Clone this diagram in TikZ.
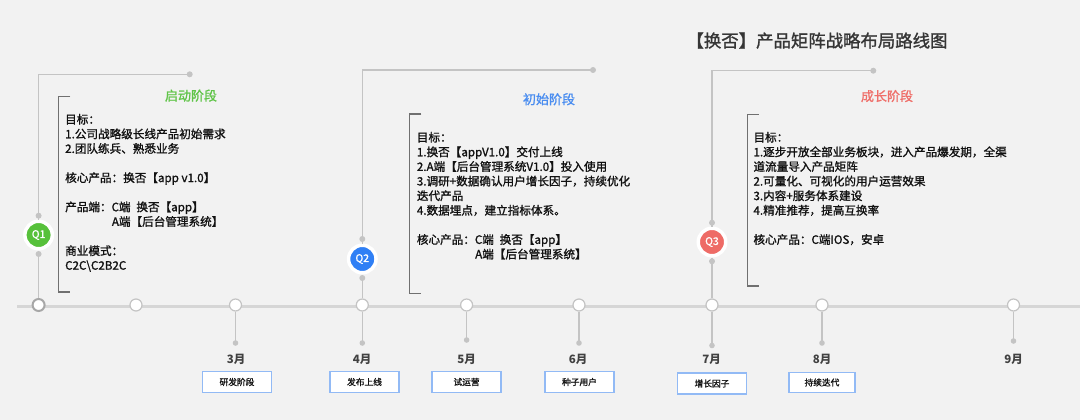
\documentclass[tikz,border=0pt]{standalone}
\usepackage{fontspec}
\setmainfont{Noto Sans CJK SC}
\newfontfamily\medfont{Noto Sans CJK SC}[FakeBold=1.3]
\definecolor{bgc}{HTML}{F2F2F2}
\definecolor{txt}{HTML}{111111}
\definecolor{tl}{HTML}{D6D6D6}
\definecolor{stem}{HTML}{C4C4C4}
\definecolor{brk}{HTML}{707070}
\definecolor{qgreen}{HTML}{57C13B}
\definecolor{qblue}{HTML}{2F7FF5}
\definecolor{qred}{HTML}{EE6B66}
\definecolor{tgreen}{HTML}{5FC447}
\definecolor{tblue}{HTML}{4A8DF0}
\definecolor{tred}{HTML}{EF6E69}
\definecolor{boxb}{HTML}{92BAF5}
\begin{document}
\begin{tikzpicture}[x=1pt,y=-1pt,
  body/.style={anchor=base west,inner sep=0,font=\medfont\fontsize{11.6}{14}\selectfont,text=txt},
  stage/.style={anchor=base,inner sep=0,font=\medfont\fontsize{13}{15}\selectfont},
  tlc/.style={circle,fill=white,draw=stem,line width=1.2pt,minimum size=12pt,inner sep=0},
  qc/.style={circle,draw=white,line width=3.5pt,minimum size=27.5pt,inner sep=0,text=white,font=\medfont\fontsize{10.5}{11}\selectfont},
  qline/.style={draw=stem,line width=1.4pt},
  dotc/.style={fill=stem},
  brack/.style={draw=brk,line width=1.1pt},
  month/.style={anchor=base,inner sep=0,font=\bfseries\fontsize{11.5}{13}\selectfont,text=txt!80},
  mbox/.style={draw=boxb,line width=1.2pt,fill=white,minimum width=69pt,minimum height=21pt,inner sep=0,font=\medfont\fontsize{8.7}{10}\selectfont,text=txt}
]
\useasboundingbox (0,0) rectangle (1080,420);
\fill[bgc] (0,0) rectangle (1080,420);

% title
\node[anchor=base,inner sep=0,font=\medfont\fontsize{17.4}{20}\selectfont,text=txt!85] (title) at (817,47.2) {【换否】产品矩阵战略布局路线图};

% timeline
\coordinate (tlstart) at (17,306.5);
\coordinate (tlend) at (1080,306.5);
\draw[tl,line width=3.6pt] (tlstart) -- (tlend);

\node[tlc,draw=stem!85!black,line width=2pt] (t1) at (38.6,305) {};
\node[tlc] (t2) at (136,305) {};
\node[tlc] (t3) at (235.5,305) {};
\node[tlc] (t4) at (362.3,305) {};
\node[tlc] (t5) at (466.6,305) {};
\node[tlc] (t6) at (579,305) {};
\node[tlc] (t7) at (712,305) {};
\node[tlc] (t8) at (822,305) {};
\node[tlc] (t9) at (1013.5,305) {};

% stems
\coordinate (d3) at (235.5,343);
\coordinate (d4) at (362.3,343);
\coordinate (d5) at (466.6,340);
\coordinate (d6) at (579,343);
\coordinate (d7) at (712,345.5);
\coordinate (d8) at (822,343);
\coordinate (d9) at (1013.5,341);
\foreach \i in {3,...,9}{
  \draw[qline,line width=1.3pt] (t\i.south) -- (d\i);
  \fill[dotc] (d\i) circle (2.8pt);
}

% months
\node[month] (m3) at (236,363) {3月};
\node[month] (m4) at (362,363) {4月};
\node[month] (m5) at (466.5,363) {5月};
\node[month] (m6) at (578,363) {6月};
\node[month] (m7) at (711.5,363) {7月};
\node[month] (m8) at (822,363) {8月};
\node[month] (m9) at (1013.5,363) {9月};

\node[mbox] (b3) at (237,382) {研发阶段};
\node[mbox] (b4) at (364.5,382) {发布上线};
\node[mbox] (b5) at (466.5,382) {试运营};
\node[mbox] (b6) at (579.5,382) {种子用户};
\node[mbox] (b7) at (712,383.5) {增长因子};
\node[mbox,minimum width=66pt,minimum height=19.5pt] (b8) at (822,382.5) {持续迭代};

% ---------- Q1 ----------
\node[qc,fill=qgreen] (q1) at (38.6,235) {Q1};
\coordinate (q1end) at (189.7,74.3);
\coordinate (q1corner) at (38.6,74.3);
\draw[qline] (q1end) -- (q1corner) -- (q1.north);
\draw[qline] (q1.south) -- (t1.north);
\fill[dotc] (q1end) circle (3pt);
\fill[dotc] (38.6,215.7) circle (3pt);
\fill[dotc] (38.6,254) circle (3pt);
\draw[brack] (70.3,96.7) -- (58.7,96.7) -- (58.7,292) -- (70.3,292);
\node[stage,text=tgreen] (s1) at (191,100.6) {启动阶段};
\node[body] (q1l1) at (65,123.7) {目标：};
\node[body] (q1l2) at (65,138.3) {1.公司战略级长线产品初始需求};
\node[body] (q1l3) at (65,152.9) {2.团队练兵、熟悉业务};
\node[body] (q1l4) at (65,182.1) {核心产品：换否【app v1.0】};
\node[body] (q1l5) at (65,211.3) {产品端：C端\enspace 换否【app】};
\node[body] (q1l6) at (111.7,225.9) {A端【后台管理系统】};
\node[body] (q1l7) at (65,255.1) {商业模式：};
\node[body] (q1l8) at (65,269.7) {C2C\textbackslash C2B2C};

% ---------- Q2 ----------
\node[qc,fill=qblue] (q2) at (362.3,259) {Q2};
\coordinate (q2end) at (593,70);
\coordinate (q2corner) at (362.3,70);
\draw[qline] (q2end) -- (q2corner) -- (q2.north);
\draw[qline] (q2.south) -- (t4.north);
\fill[dotc] (q2end) circle (3pt);
\fill[dotc] (362.3,239) circle (3pt);
\fill[dotc] (362.3,278) circle (3pt);
\draw[brack] (421.3,114) -- (409.3,114) -- (409.3,293.3) -- (421.3,293.3);
\node[stage,text=tblue] (s2) at (549,104.2) {初始阶段};
\node[body] (q2l1) at (416.7,141.7) {目标：};
\node[body] (q2l2) at (416.7,156.3) {1.换否【appV1.0】交付上线};
\node[body] (q2l3) at (416.7,170.9) {2.A端【后台管理系统V1.0】投入使用};
\node[body] (q2l4) at (416.7,185.5) {3.调研+数据确认用户增长因子，持续优化};
\node[body] (q2l5) at (416.7,200.1) {迭代产品};
\node[body] (q2l6) at (416.7,214.7) {4.数据埋点，建立指标体系。};
\node[body] (q2l7) at (416.7,243.9) {核心产品：C端\enspace 换否【app】};
\node[body] (q2l8) at (475,258.5) {A端【后台管理系统】};

% ---------- Q3 ----------
\node[qc,fill=qred] (q3) at (712,242) {Q3};
\coordinate (q3end) at (873.3,70.7);
\coordinate (q3corner) at (712,70.7);
\draw[qline] (q3end) -- (q3corner) -- (q3.north);
\draw[qline] (q3.south) -- (t7.north);
\fill[dotc] (q3end) circle (3pt);
\fill[dotc] (712,222.7) circle (3pt);
\fill[dotc] (712,261.3) circle (3pt);
\draw[brack] (758.7,114.7) -- (747.3,114.7) -- (747.3,286) -- (758.7,286);
\node[stage,text=tred] (s3) at (887,101) {成长阶段};
\node[body] (q3l1) at (753.3,141.7) {目标：};
\node[body] (q3l2) at (753.3,156.3) {1.逐步开放全部业务板块，进入产品爆发期，全渠};
\node[body] (q3l3) at (753.3,170.9) {道流量导入产品矩阵};
\node[body] (q3l4) at (753.3,185.5) {2.可量化、可视化的用户运营效果};
\node[body] (q3l5) at (753.3,200.1) {3.内容+服务体系建设};
\node[body] (q3l6) at (753.3,214.7) {4.精准推荐，提高互换率};
\node[body] (q3l7) at (753.3,243.9) {核心产品：C端IOS，安卓};
\end{tikzpicture}
\end{document}
